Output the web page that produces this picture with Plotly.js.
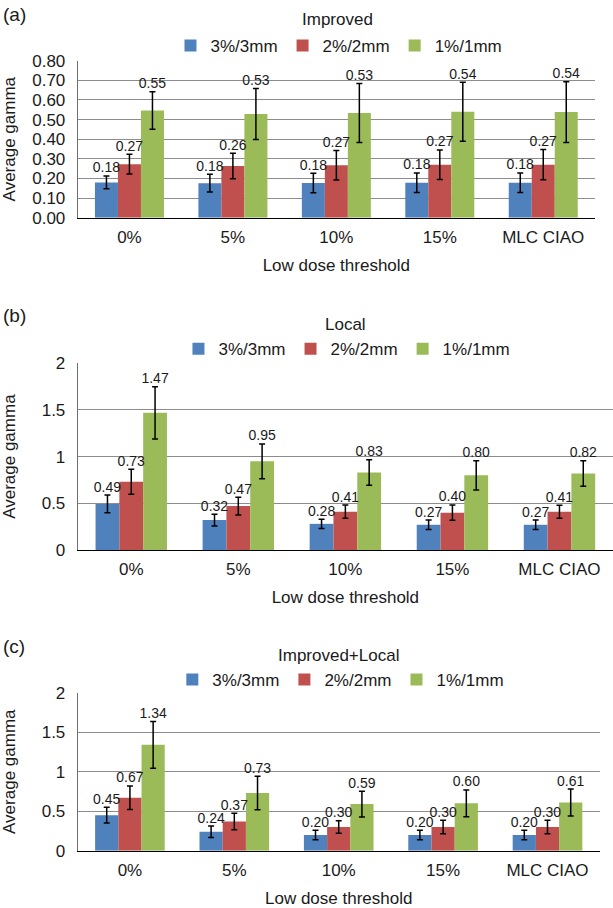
<!DOCTYPE html>
<html>
<head>
<meta charset="utf-8">
<script src="https://cdn.plot.ly/plotly-3.0.1.min.js"></script>
<style>html,body{margin:0;padding:0;background:#fff;}#chart{width:613px;height:908px;}</style>
</head>
<body>
<div id="chart"></div>
<script>
// ---- data ----
const categories = ['0%', '5%', '10%', '15%', 'MLC CIAO'];
const seriesNames = ['3%/3mm', '2%/2mm', '1%/1mm'];
const panelTitles = ['Improved', 'Local', 'Improved+Local'];
const panelLabels = ['(a)', '(b)', '(c)'];

// (a) Improved
const improved3 = [0.18, 0.176, 0.177, 0.178, 0.178];
const improved2 = [0.273, 0.263, 0.267, 0.27, 0.27];
const improved1 = [0.546, 0.528, 0.533, 0.54, 0.538];
const improved3Err = [0.033, 0.045, 0.05, 0.05, 0.05];
const improved2Err = [0.05, 0.065, 0.075, 0.075, 0.077];
const improved1Err = [0.095, 0.13, 0.15, 0.15, 0.155];

// (b) Local
const local3 = [0.493, 0.32, 0.28, 0.27, 0.27];
const local2 = [0.73, 0.47, 0.41, 0.40, 0.41];
const local1 = [1.47, 0.95, 0.83, 0.80, 0.82];
const local3Err = [0.095, 0.063, 0.05, 0.05, 0.05];
const local2Err = [0.134, 0.095, 0.071, 0.082, 0.07];
const local1Err = [0.28, 0.186, 0.137, 0.157, 0.137];

// (c) Improved+Local
const both3 = [0.45, 0.24, 0.20, 0.20, 0.20];
const both2 = [0.67, 0.37, 0.30, 0.30, 0.30];
const both1 = [1.34, 0.73, 0.59, 0.60, 0.61];
const both3Err = [0.10, 0.072, 0.06, 0.06, 0.06];
const both2Err = [0.15, 0.104, 0.08, 0.085, 0.085];
const both1Err = [0.296, 0.213, 0.163, 0.17, 0.17];

// ---- styling ----
const colors = ['#4F81BD', '#C0504D', '#9BBB59'];
const FONT = 'Liberation Sans, Arial, Helvetica, sans-serif';
const TXT = '#1a1a1a';
const FS = 17;

const panels = [
  {vals: [improved3, improved2, improved1], errs: [improved3Err, improved2Err, improved1Err]},
  {vals: [local3, local2, local1], errs: [local3Err, local2Err, local1Err]},
  {vals: [both3, both2, both1], errs: [both3Err, both2Err, both1Err]}
];

const traces = [];
panels.forEach((p, pi) => {
  const xa = pi === 0 ? 'x' : 'x' + (pi + 1);
  const ya = pi === 0 ? 'y' : 'y' + (pi + 1);
  const lg = pi === 0 ? 'legend' : 'legend' + (pi + 1);
  p.vals.forEach((v, si) => {
    traces.push({
      type: 'bar', x: categories, y: v, name: seriesNames[si],
      xaxis: xa, yaxis: ya, legend: lg,
      marker: {color: colors[si], line: {width: 0}},
      error_y: {type: 'data', array: p.errs[si], visible: true, color: '#000', thickness: 1.5, width: 3},
      hoverinfo: 'skip'
    });
  });
  p.vals.forEach((v, si) => {
    traces.push({
      type: 'scatter', mode: 'text', x: categories,
      y: v.map((val, i) => val + p.errs[si][i]),
      text: v.map(val => val.toFixed(2)),
      textposition: 'top center',
      textfont: {family: FONT, size: 14, color: TXT},
      xaxis: xa, yaxis: ya, showlegend: false, cliponaxis: false, hoverinfo: 'skip'
    });
  });
});

const xDomains = [[0.1268, 0.9706], [0.1268, 1.0], [0.1268, 0.9783]];
const yDomains = [[0.7602, 0.9332], [0.3943, 0.5999], [0.0631, 0.2371]];
const yRanges = [[0, 0.8], [0, 2], [0, 2]];
const yDticks = [0.1, 0.5, 0.5];
const yFormats = ['.2f', '', ''];
const yStandoff = [12, 21, 21];

const layout = {
  width: 613, height: 908,
  margin: {l: 0, r: 0, t: 0, b: 0},
  paper_bgcolor: '#fff', plot_bgcolor: '#fff',
  font: {family: FONT, size: FS, color: TXT},
  barmode: 'group', bargap: 0.333, bargroupgap: 0,
  scattermode: 'group', scattergap: 0.333,
  annotations: []
};

const legendPos = [[0.553, 0.9493], [0.566, 0.6153], [0.556, 0.2511]];
const titlePos = [[0.5498, 0.978], [0.563, 0.643], [0.553, 0.2786]];
const labelPos = [0.984, 0.653, 0.2878];

for (let pi = 0; pi < 3; pi++) {
  const sfx = pi === 0 ? '' : String(pi + 1);
  layout['xaxis' + sfx] = {
    domain: xDomains[pi], anchor: 'y' + sfx, type: 'category',
    showline: true, linecolor: '#000', linewidth: 1.5,
    ticks: '', showgrid: false, zeroline: false,
    tickfont: {family: FONT, size: FS, color: TXT},
    ticklabelstandoff: 3,
    title: {text: 'Low dose threshold', font: {family: FONT, size: FS, color: TXT}, standoff: 13},
    automargin: false, fixedrange: true
  };
  layout['yaxis' + sfx] = {
    domain: yDomains[pi], anchor: 'x' + sfx, range: yRanges[pi], dtick: yDticks[pi], tick0: 0,
    tickformat: yFormats[pi],
    showgrid: true, gridcolor: '#8c8c8c', gridwidth: 1,
    showline: true, linecolor: '#6f6f6f', linewidth: 1,
    zeroline: false, ticks: '', ticklabelstandoff: 8,
    tickfont: {family: FONT, size: FS, color: TXT},
    title: {text: 'Average gamma', font: {family: FONT, size: FS, color: TXT}, standoff: yStandoff[pi]},
    automargin: false, fixedrange: true
  };
  layout[pi === 0 ? 'legend' : 'legend' + (pi + 1)] = {
    orientation: 'h', x: legendPos[pi][0], xanchor: 'center', y: legendPos[pi][1], yanchor: 'middle',
    font: {family: FONT, size: FS, color: TXT}, bgcolor: 'rgba(0,0,0,0)', traceorder: 'normal'
  };
  layout.annotations.push({
    text: panelTitles[pi], xref: 'paper', yref: 'paper', x: titlePos[pi][0], y: titlePos[pi][1],
    xanchor: 'center', yanchor: 'middle', showarrow: false, font: {family: FONT, size: FS, color: TXT}
  });
  layout.annotations.push({
    text: panelLabels[pi], xref: 'paper', yref: 'paper', x: 0.002, y: labelPos[pi],
    xanchor: 'left', yanchor: 'middle', showarrow: false, font: {family: FONT, size: 19, color: TXT}
  });
}

Plotly.newPlot('chart', traces, layout, {staticPlot: true, displayModeBar: false});
</script>
</body>
</html>
